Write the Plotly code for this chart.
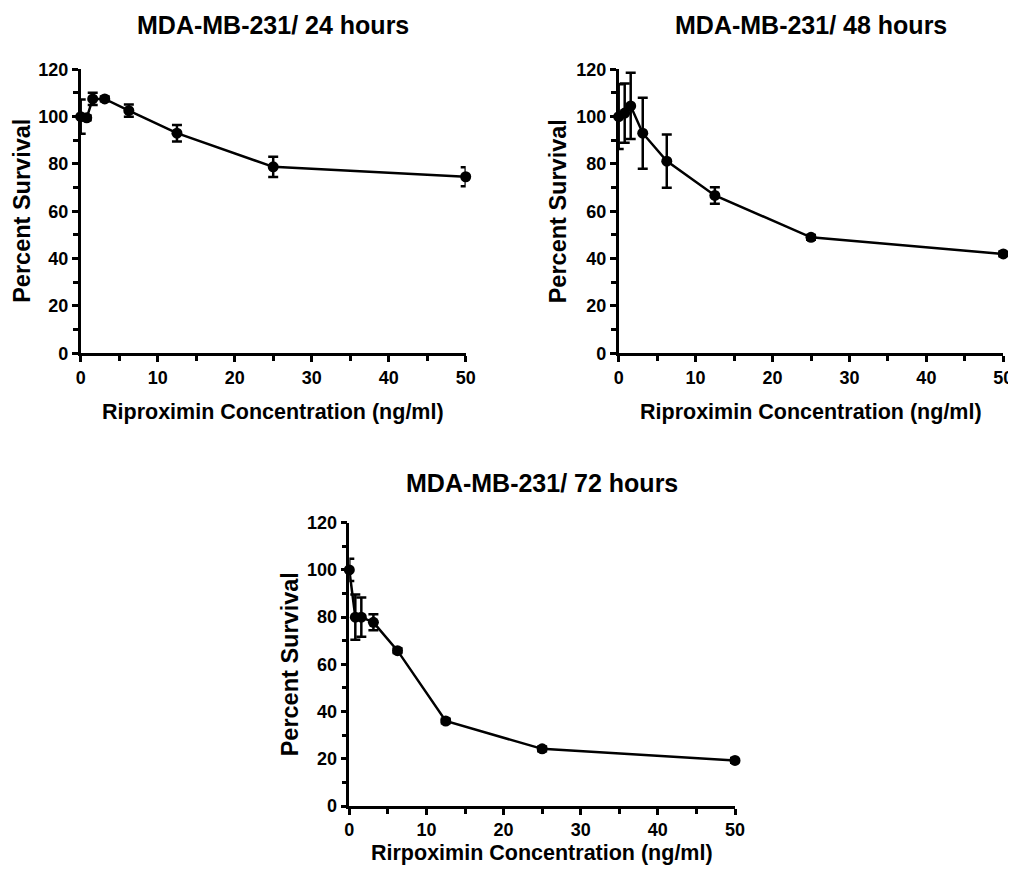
import plotly.graph_objects as go

conc = [0, 0.78, 1.56, 3.125, 6.25, 12.5, 25, 50]

surv_24 = [100, 99.5, 107.5, 107.5, 102.5, 93, 78.8, 74.6]
err_24 = [7.2, 1.0, 2.6, 1.0, 2.6, 3.5, 4.3, 4.0]

surv_48 = [100, 101.5, 104.5, 93, 81.2, 66.7, 49, 42]
err_48 = [13.7, 12.5, 14.0, 15.0, 11.3, 3.5, 1.0, 1.0]

surv_72 = [100, 80, 80, 77.8, 65.8, 36, 24.2, 19.3]
err_72 = [4.7, 9.6, 8.3, 3.4, 1.0, 1.0, 1.0, 1.0]

titles = ["MDA-MB-231/ 24 hours", "MDA-MB-231/ 48 hours", "MDA-MB-231/ 72 hours"]
xtitles = ["Riproximin Concentration (ng/ml)", "Riproximin Concentration (ng/ml)",
           "Rirpoximin Concentration (ng/ml)"]
ytitle = "Percent Survival"
xticks = [0, 10, 20, 30, 40, 50]
yticks = [0, 20, 40, 60, 80, 100, 120]

# page is 1016x876; the figure sits at an 8px body margin
W, H = 1008, 860
OFF = 8
FONT = "Liberation Sans, Arial, sans-serif"

# page-pixel boxes of plot areas: (left, right, top, bottom)
boxes = [(80.7, 465.7, 69.3, 353.3), (618.7, 1003.3, 69.3, 353.3), (349.3, 735.0, 522.7, 806.0)]
title_y = [25, 25, 483]
xtitle_y = [411.5, 411.5, 853.0]
ytitle_x = [22.5, 558.0, 290.0]

fig = go.Figure()
series = [(surv_24, err_24), (surv_48, err_48), (surv_72, err_72)]
for i, (s, e) in enumerate(series):
    n = "" if i == 0 else str(i + 1)
    fig.add_trace(go.Scatter(
        x=conc, y=s, mode="lines+markers",
        xaxis="x" + n, yaxis="y" + n,
        line=dict(color="black", width=2.5),
        marker=dict(color="black", size=11, symbol="circle"),
        error_y=dict(type="data", array=e, visible=True, color="black", thickness=2.5, width=5),
        cliponaxis=False, showlegend=False,
    ))


def px(xp):
    return (xp - OFF) / W


def py(yp):
    return (H - (yp - OFF)) / H


layout = dict(
    width=W, height=H, margin=dict(l=0, r=0, t=0, b=0, autoexpand=False),
    paper_bgcolor="white", plot_bgcolor="white", showlegend=False,
)
annotations = []
for i, (l, r, t, b) in enumerate(boxes):
    n = "" if i == 0 else str(i + 1)
    layout["xaxis" + n] = dict(
        domain=[px(l), px(r)], range=[0, 50], anchor="y" + n, automargin=False,
        tickvals=xticks, ticktext=[str(v) for v in xticks],
        ticks="outside", ticklen=6, tickwidth=2.5, tickcolor="black",
        showline=True, linewidth=2.5, linecolor="black",
        showgrid=False, zeroline=False,
        tickfont=dict(family=FONT, size=18, color="black", weight="bold"),
        minor=dict(tickvals=[5, 15, 25, 35, 45], ticks="outside", ticklen=5, tickwidth=2.5, tickcolor="black", showgrid=False),
    )
    layout["yaxis" + n] = dict(
        domain=[py(b), py(t)], range=[0, 120], anchor="x" + n, automargin=False,
        tickvals=yticks, ticktext=[str(v) for v in yticks],
        ticks="outside", ticklen=6, tickwidth=2.5, tickcolor="black",
        showline=True, linewidth=2.5, linecolor="black",
        showgrid=False, zeroline=False,
        tickfont=dict(family=FONT, size=18, color="black", weight="bold"),
        minor=dict(tickvals=[10, 30, 50, 70, 90, 110], ticks="outside", ticklen=5, tickwidth=2.5, tickcolor="black", showgrid=False),
    )
    cx = (l + r) / 2
    annotations.append(dict(
        text="<b>" + titles[i] + "</b>", x=px(cx), y=py(title_y[i]),
        xref="paper", yref="paper", xanchor="center", yanchor="middle", showarrow=False,
        font=dict(family=FONT, size=25, color="black"),
    ))
    annotations.append(dict(
        text="<b>" + xtitles[i] + "</b>", x=px(cx), y=py(xtitle_y[i]),
        xref="paper", yref="paper", xanchor="center", yanchor="middle", showarrow=False,
        font=dict(family=FONT, size=21.5, color="black"),
    ))
    annotations.append(dict(
        text="<b>" + ytitle + "</b>", x=px(ytitle_x[i]), y=py((t + b) / 2),
        xref="paper", yref="paper", xanchor="center", yanchor="middle", showarrow=False,
        textangle=-90, font=dict(family=FONT, size=23.5, color="black"),
    ))
layout["annotations"] = annotations
fig.update_layout(**layout)
fig.write_html("out.html")
